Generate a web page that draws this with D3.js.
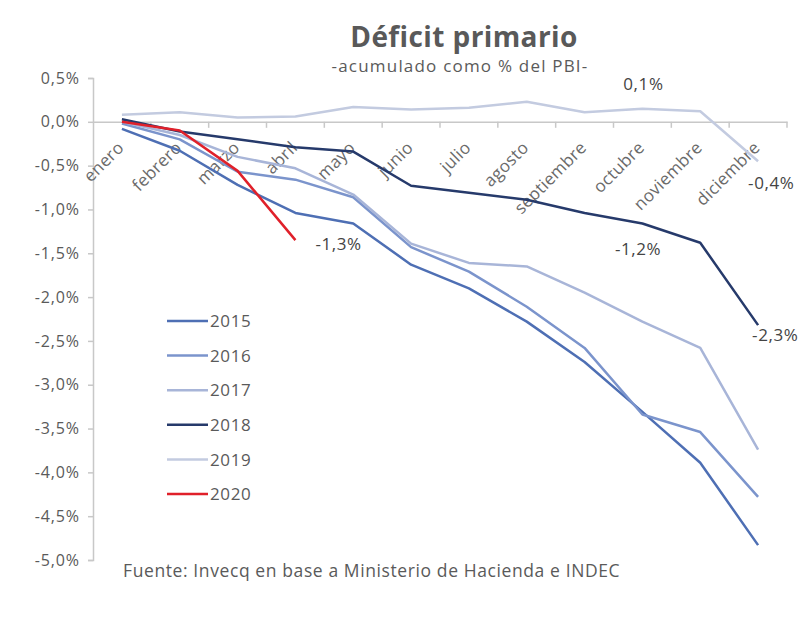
<!DOCTYPE html>
<html>
<head>
<meta charset="utf-8">
<script src="https://cdn.jsdelivr.net/npm/d3@7"></script>
<style>
  body { margin: 0; background: #fff; }
  text { font-family: "Open Sans", "Lato", sans-serif; fill: #5a5a5a; }
</style>
</head>
<body>
<div id="plot"></div>
<script>
// meses del eje x
var months = ["enero", "febrero", "marzo", "abril", "mayo", "junio", "julio",
  "agosto", "septiembre", "octubre", "noviembre", "diciembre"];

// déficit primario acumulado, % del PBI
var s2015 = [-0.08, -0.33, -0.72, -1.04, -1.16, -1.63, -1.90, -2.28, -2.74, -3.31, -3.89, -4.83];
var s2016 = [-0.02, -0.20, -0.57, -0.66, -0.86, -1.43, -1.71, -2.11, -2.58, -3.34, -3.54, -4.28];
var s2017 = [0.00, -0.15, -0.40, -0.53, -0.83, -1.39, -1.61, -1.65, -1.95, -2.28, -2.58, -3.74];
var s2018 = [0.03, -0.11, -0.20, -0.29, -0.34, -0.73, -0.81, -0.89, -1.04, -1.16, -1.38, -2.32];
var s2019 = [0.08, 0.11, 0.05, 0.06, 0.17, 0.14, 0.16, 0.23, 0.11, 0.15, 0.12, -0.45];
var s2020 = [0.00, -0.10, -0.56, -1.35];

var years = ["2015", "2016", "2017", "2018", "2019", "2020"];
var colors = ["#4e6fb4", "#7b94cc", "#a8b5d8", "#263a6b", "#c3cbe0", "#e0202a"];

var yTicks = [0.5, 0, -0.5, -1, -1.5, -2, -2.5, -3, -3.5, -4, -4.5, -5];

var width = 800, height = 623;
var margin = { left: 93, right: 787, top: 78, bottom: 560 };

var svg = d3.select("#plot").append("svg")
  .attr("width", width)
  .attr("height", height);

var x = d3.scaleBand().domain(months).range([margin.left, margin.right]);
var y = d3.scaleLinear().domain([-5, 0.5]).range([margin.bottom, margin.top]);
var fmt = function (v) { return d3.format(".1f")(v).replace(".", ",").replace("−", "-") + "%"; };

// titulo
svg.append("text")
  .attr("x", 464).attr("y", 47)
  .attr("text-anchor", "middle")
  .style("font-size", "28px").style("font-weight", "bold")
  .style("letter-spacing", "0.4px")
  .style("fill", "#595959")
  .text("Déficit primario");
svg.append("text")
  .attr("x", 460).attr("y", 72)
  .attr("text-anchor", "middle")
  .style("font-size", "17px")
  .style("letter-spacing", "1.2px")
  .text("-acumulado como % del PBI-");

// eje y
var yAxis = svg.append("g")
  .attr("transform", `translate(${margin.left},0)`)
  .call(d3.axisLeft(y).tickValues(yTicks).tickSize(5).tickPadding(8).tickFormat(fmt));
yAxis.select(".domain").attr("stroke", "#c8c8c8").attr("stroke-width", 1.5);
yAxis.selectAll(".tick line").attr("stroke", "#c8c8c8").attr("stroke-width", 1.5);
yAxis.selectAll(".tick text").style("font-size", "16px").style("fill", "#5a5a5a")
  .style("letter-spacing", "0.9px")
  .style("font-family", "'Open Sans', sans-serif");

// eje x sobre el cero
var xAxis = svg.append("g")
  .attr("transform", `translate(0,${y(0)})`)
  .call(d3.axisBottom(x).tickSize(0).tickFormat(""));
xAxis.select(".domain").attr("stroke", "#c8c8c8").attr("stroke-width", 1.5);
xAxis.selectAll(".tick").remove();

var bounds = months.map(function (m) { return x(m); }).concat([margin.right]);
xAxis.selectAll("line.sep")
  .data(bounds.slice(1))
  .join("line")
  .attr("class", "sep")
  .attr("x1", d => d).attr("x2", d => d)
  .attr("y1", 0).attr("y2", 6)
  .attr("stroke", "#c8c8c8").attr("stroke-width", 1.5);

svg.append("g").selectAll("text")
  .data(months)
  .join("text")
  .attr("transform", d => `translate(${x(d) + x.bandwidth() / 2 + 3},${y(0) + 27}) rotate(-45)`)
  .attr("text-anchor", "end")
  .style("font-size", "17px")
  .style("letter-spacing", "0.3px")
  .style("fill", "#6a6a6a")
  .text(d => d);

// lineas
var allSeries = [s2015, s2016, s2017, s2018, s2019, s2020];
var line = d3.line()
  .x(function (d, i) { return x(months[i]) + x.bandwidth() / 2; })
  .y(function (d) { return y(d); });

svg.append("g").selectAll("path")
  .data(allSeries)
  .join("path")
  .attr("d", line)
  .attr("fill", "none")
  .attr("stroke", (d, i) => colors[i])
  .attr("stroke-width", 2.5)
  .attr("stroke-linejoin", "round");

// etiquetas de valores
function px(i) { return x(months[i]) + x.bandwidth() / 2; }
var labels = [
  { t: fmt(-1.3), x: px(3) + 20, y: y(s2020[3]) + 10, a: "start" },
  { t: fmt(-1.2), x: px(10) - 39, y: y(s2018[10]) + 12, a: "end" },
  { t: fmt(-2.3), x: px(11) - 6, y: y(s2018[11]) + 16, a: "start" },
  { t: fmt(-0.4), x: px(11) - 10, y: y(s2019[11]) + 28, a: "start" },
  { t: fmt(0.1), x: px(10) - 77, y: y(s2019[10]) - 21, a: "start" }
];
svg.append("g").selectAll("text")
  .data(labels)
  .join("text")
  .attr("x", d => d.x).attr("y", d => d.y)
  .attr("text-anchor", d => d.a)
  .style("font-size", "17px")
  .style("letter-spacing", "0.6px")
  .style("fill", "#444")
  .text(d => d.t);

// leyenda
var legend = svg.append("g").selectAll("g")
  .data(years)
  .join("g")
  .attr("transform", (d, i) => `translate(167,${321 + i * 34.6})`);
legend.append("line")
  .attr("x1", 0).attr("x2", 41)
  .attr("stroke", (d, i) => colors[i])
  .attr("stroke-width", 2.5);
legend.append("text")
  .attr("x", 43).attr("dy", "0.36em")
  .style("font-size", "17px")
  .style("letter-spacing", "0.6px")
  .text(d => d);

// fuente
svg.append("text")
  .attr("x", 123).attr("y", 577)
  .style("font-size", "17.5px")
  .style("letter-spacing", "0.6px")
  .text("Fuente: Invecq en base a Ministerio de Hacienda e INDEC");
</script>
</body>
</html>
